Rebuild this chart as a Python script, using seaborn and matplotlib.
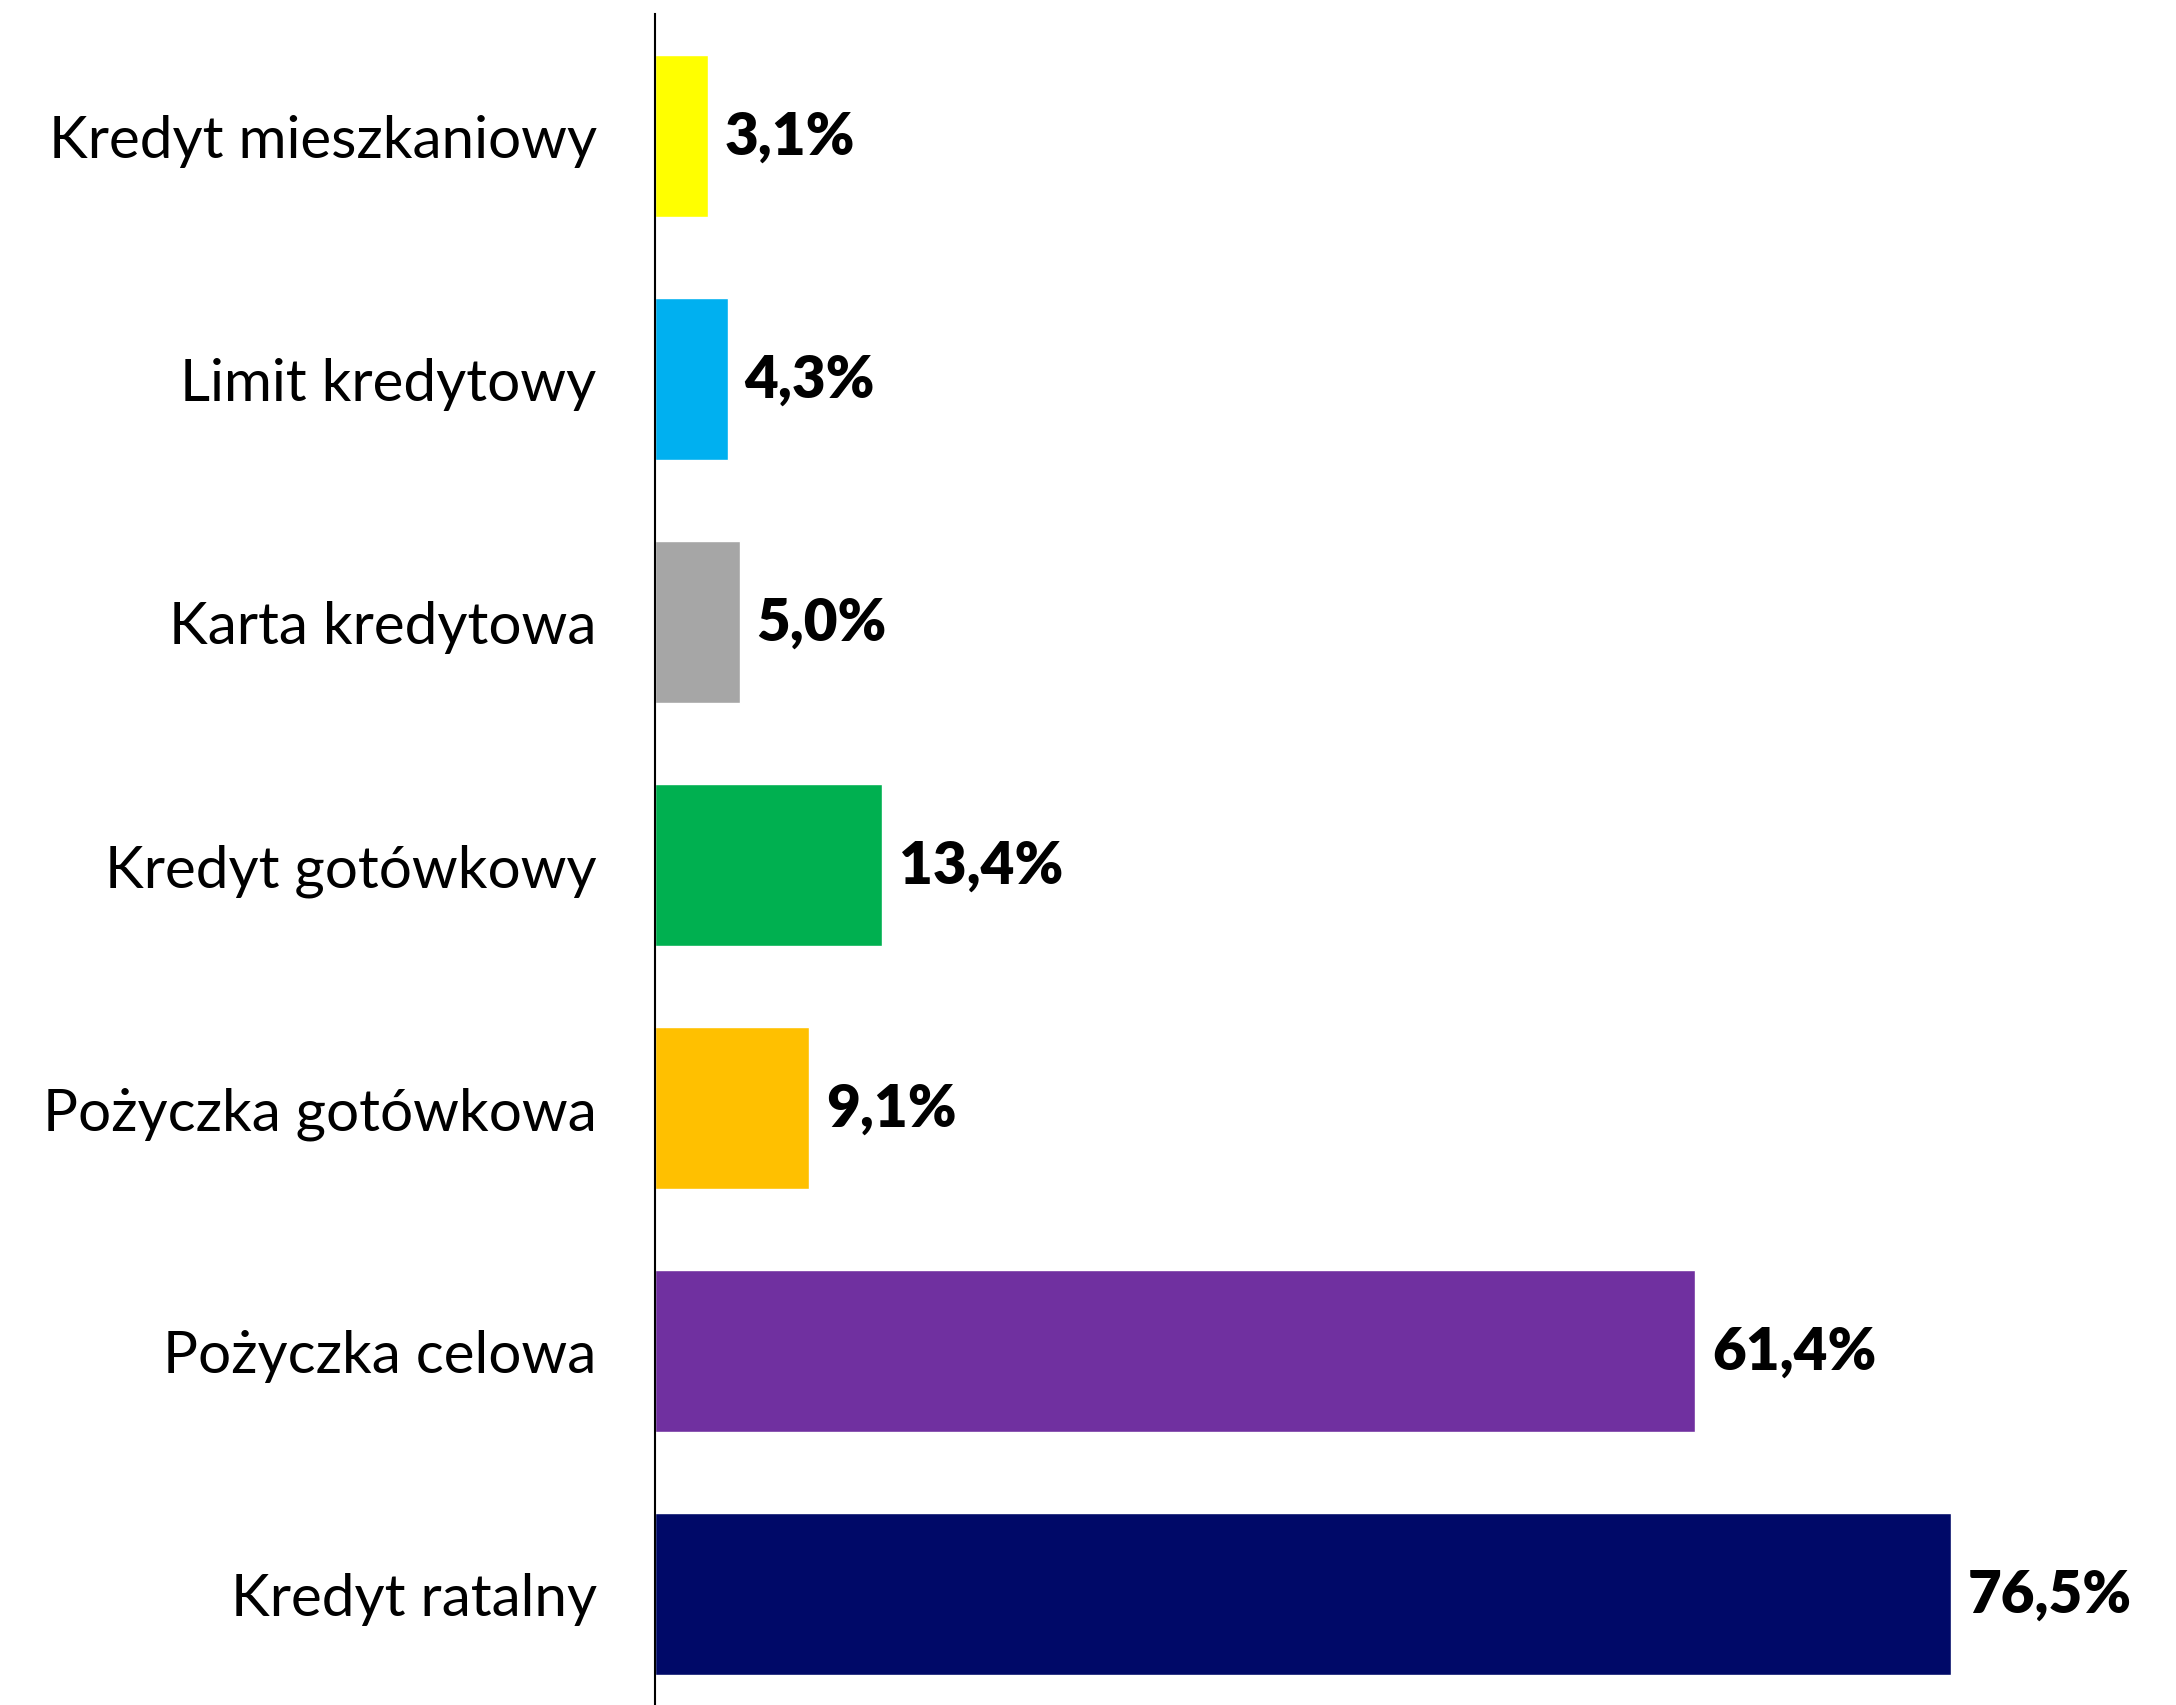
import matplotlib
matplotlib.use("Agg")
import matplotlib.pyplot as plt
import seaborn as sns
import pandas as pd

categories = ["Kredyt mieszkaniowy", "Limit kredytowy", "Karta kredytowa",
              "Kredyt gotówkowy", "Pożyczka gotówkowa", "Pożyczka celowa",
              "Kredyt ratalny"]
values = [3.1, 4.3, 5.0, 13.4, 9.1, 61.4, 76.5]
colors = ["#FFFF00", "#00B0F0", "#A6A6A6", "#00B050", "#FFC000", "#7030A0", "#000968"]

sns.set_theme(style="white")
plt.rcParams["font.family"] = ["Lato", "DejaVu Sans"]

df = pd.DataFrame({"cat": categories, "val": values})

fig = plt.figure(figsize=(21.76, 17.06), dpi=100)
ax = fig.add_axes([0.301, -0.00615, 0.6931, 0.99719])

sns.barplot(data=df, y="cat", x="val", hue="cat", palette=colors,
            order=categories, hue_order=categories, orient="h",
            width=0.665, dodge=False, legend=False, ax=ax, saturation=1)

for cont in ax.containers:
    labels = [f"{v:.1f}".replace(".", ",") + "%" for v in cont.datavalues]
    texts = ax.bar_label(cont, labels=labels, padding=12, fontsize=42,
                         fontweight="heavy", color="black")

ax.set_xlim(0, 89)
ax.set_ylim(len(categories) - 0.5, -0.5)
ax.set_xlabel("")
ax.set_ylabel("")
ax.set_xticks([])
for s in ["top", "right", "bottom"]:
    ax.spines[s].set_visible(False)
ax.spines["left"].set_color("black")
ax.spines["left"].set_linewidth(1.5)
ax.tick_params(axis="y", length=0, pad=42, labelsize=42, labelcolor="black")

fig.savefig("out.png", dpi=100)
